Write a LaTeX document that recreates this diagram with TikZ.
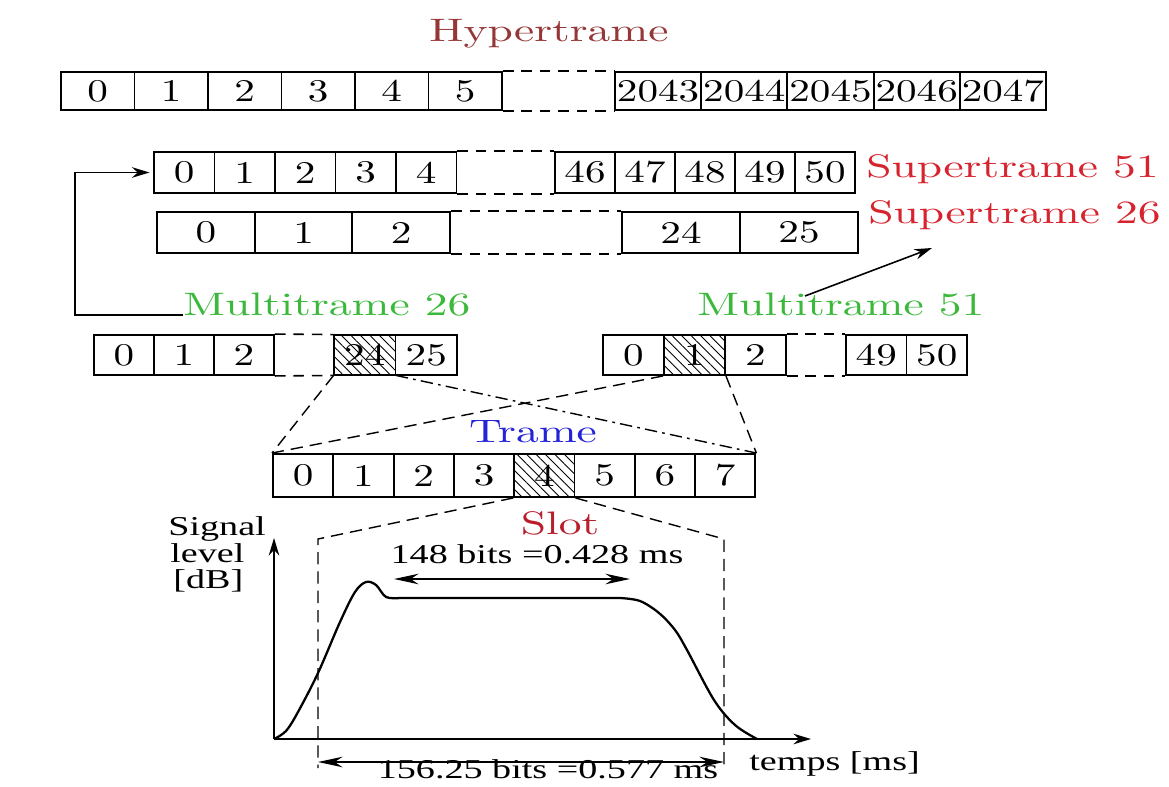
\documentclass[tikz,border=0pt]{standalone}
\usepackage{fontspec}
\usepackage{tikz}
\usetikzlibrary{arrows.meta, positioning, calc, patterns.meta}
\newfontfamily\lmwide{lmroman10-regular.otf}[FakeStretch=1.4]
\newfontfamily\lmcell{lmroman10-regular.otf}[FakeStretch=1.3]
\newfontfamily\tmwide{Liberation Serif}[FakeStretch=1.4]
\definecolor{hyperred}{RGB}{150, 55, 55}
\definecolor{superred}{RGB}{215, 35, 45}
\definecolor{multigreen}{RGB}{60, 185, 60}
\definecolor{trameblue}{RGB}{35, 35, 215}
\definecolor{slotred}{RGB}{185, 30, 45}
\tikzset{
    cell/.style={rectangle, draw, line width=1.1pt, inner sep=0, font=\lmcell\fontsize{18}{21}\selectfont},
    hatched/.style={cell, pattern={Lines[angle=-45, distance=3.8pt, line width=0.5pt]}},
    dashgap/.style={dash pattern=on 6pt off 4.5pt, line width=0.9pt},
    lbl/.style={inner sep=0, font=\lmwide\fontsize{18.5}{22}\selectfont},
    conn/.style={-{Stealth[length=10pt, width=6pt]}, line width=0.9pt},
    zoomline/.style={dash pattern=on 7pt off 4pt, line width=0.8pt},
    zoomdot/.style={dash pattern=on 7pt off 3pt on 1.5pt off 3pt, line width=0.8pt},
    plottext/.style={inner sep=0, font=\tmwide\fontsize{15.5}{18}\selectfont},
    dimarrow/.style={{Stealth[length=14pt, width=6pt]}-{Stealth[length=14pt, width=6pt]}, line width=0.9pt},
    axisline/.style={-{Stealth[length=10pt, width=6pt]}, line width=1pt}
}

\begin{document}
\begin{tikzpicture}[x=0.02cm, y=-0.02cm]
    \useasboundingbox (0,0) rectangle (1169,787);

    % hypertrame
    \node[lbl, text=hyperred, anchor=base] (hyper) at (549,42) {Hypertrame};
    \foreach \t [count=\i from 0] in {0,1,2,3,4,5}
        \node[cell, minimum width=1.47cm, minimum height=0.76cm] (hl\i) at ({61+73.5*(\i+0.5)},91) {\t};
    \foreach \t [count=\i from 0] in {2043,2044,2045,2046,2047}
        \node[cell, minimum width=1.724cm, minimum height=0.76cm] (hr\i) at ({615+86.2*(\i+0.5)},91) {\t};
    \draw[dashgap] (hl5.north east) -- (hr0.north west) (hl5.south east) -- (hr0.south west);

    % supertrames
    \foreach \t [count=\i from 0] in {0,1,2,3,4}
        \node[cell, minimum width=1.21cm, minimum height=0.82cm] (s51l\i) at ({154+60.5*(\i+0.5)},172.5) {\t};
    \foreach \t [count=\i from 0] in {46,47,48,49,50}
        \node[cell, minimum width=1.2cm, minimum height=0.82cm] (s51r\i) at ({555+60*(\i+0.5)},172.5) {\t};
    \draw[dashgap] (s51l4.north east) -- (s51r0.north west) (s51l4.south east) -- (s51r0.south west);
    \node[lbl, text=superred, anchor=base west] (sup51) at (866,178) {Supertrame 51};

    \foreach \t [count=\i from 0] in {0,1,2}
        \node[cell, minimum width=1.954cm, minimum height=0.82cm] (s26l\i) at ({157+97.7*(\i+0.5)},232.5) {\t};
    \foreach \t [count=\i from 0] in {24,25}
        \node[cell, minimum width=2.36cm, minimum height=0.82cm] (s26r\i) at ({622+118*(\i+0.5)},232.5) {\t};
    \draw[dashgap] (s26l2.north east) -- (s26r0.north west) (s26l2.south east) -- (s26r0.south west);
    \node[lbl, text=superred, anchor=base west] (sup26) at (868,224) {Supertrame 26};

    % multitrames
    \node[lbl, text=multigreen, anchor=base west] (mul26) at (183,315) {Multitrame 26};
    \node[lbl, text=multigreen, anchor=base west] (mul51) at (697,315) {Multitrame 51};

    \foreach \t [count=\i from 0] in {0,1,2}
        \node[cell, minimum width=1.2cm, minimum height=0.8cm] (m26l\i) at ({94+60*(\i+0.5)},355) {\t};
    \node[hatched, minimum width=1.23cm, minimum height=0.8cm] (m26r0) at (364.75,355) {24};
    \node[cell, minimum width=1.23cm, minimum height=0.8cm] (m26r1) at (426.25,355) {25};
    \draw[dashgap] (m26l2.north east) -- (m26r0.north west) (m26l2.south east) -- (m26r0.south west);

    \node[cell, minimum width=1.22cm, minimum height=0.8cm] (m51l0) at (633.5,355) {0};
    \node[hatched, minimum width=1.22cm, minimum height=0.8cm] (m51l1) at (694.5,355) {1};
    \node[cell, minimum width=1.22cm, minimum height=0.8cm] (m51l2) at (755.5,355) {2};
    \foreach \t [count=\i from 0] in {49,50}
        \node[cell, minimum width=1.21cm, minimum height=0.8cm] (m51r\i) at ({846+60.5*(\i+0.5)},355) {\t};
    \draw[dashgap] (m51l2.north east) -- (m51r0.north west) (m51l2.south east) -- (m51r0.south west);

    \draw[conn, shorten >=2pt] (mul26.base west) -- ++(-108,0) |- (s51l0.west);
    \coordinate (mulTip) at (805,296);
    \coordinate (supTip) at (932,248);
    \draw[conn] (mulTip) -- (supTip);

    % trame
    \node[lbl, text=trameblue, anchor=base] (trame) at (533,442) {Trame};
    \foreach \i in {0,...,7} {
        \ifnum\i=4
            \node[hatched, minimum width=1.206cm, minimum height=0.86cm] (t\i) at ({273+60.3*(\i+0.5)},475.5) {\i};
        \else
            \node[cell, minimum width=1.206cm, minimum height=0.86cm] (t\i) at ({273+60.3*(\i+0.5)},475.5) {\i};
        \fi
    }
    \draw[zoomline] (m26r0.south west) -- (t0.north west);
    \draw[zoomdot] (m26r0.south east) -- (t7.north east);
    \draw[zoomline] (m51l1.south west) -- (t0.north west);
    \draw[zoomline] (m51l1.south east) -- (t7.north east);

    % slot
    \node[lbl, text=slotred, anchor=base] (slot) at (560,534) {Slot};
    \coordinate (slotL) at (318,539);
    \coordinate (slotR) at (724,539);
    \coordinate (slotLb) at (318,768);
    \coordinate (slotRb) at (724,768);
    \draw[zoomline] (t4.south west) -- (slotL) -- (slotLb);
    \draw[zoomline] (t4.south east) -- (slotR) -- (slotRb);

    \coordinate (O) at (274,739);
    \coordinate (yTop) at (274,538);
    \coordinate (xEnd) at (811,739);
    \draw[axisline] (O) -- (yTop);
    \draw[axisline] (O) -- (xEnd);
    \node[plottext, anchor=base west] (sig1) at (168,535) {Signal};
    \node[plottext, anchor=base west] (sig2) at (170,562) {level};
    \node[plottext, anchor=base west] (sig3) at (173,588) {[dB]};
    \node[plottext, anchor=base west] (temps) at (749,770) {temps [ms]};

    \draw[line width=1.3pt] plot[smooth, tension=0.55] coordinates {(274,739) (286,731) (298,712) (318,673) (340,622) (355,592) (366,582) (376,585) (386,597) (400,598)}
        -- (620,598) plot[smooth, tension=0.55] coordinates {(620,598) (640,601) (659,613) (675,630) (687,650) (714,700) (735,725) (757,739)};

    \coordinate (bA) at (394,579);
    \coordinate (bB) at (630,579);
    \draw[dimarrow] (bA) -- (bB);
    \node[plottext, anchor=base] (bits148) at (537,563) {148 bits =0.428 ms};

    \coordinate (cA) at (318,762);
    \coordinate (cB) at (724,762);
    \draw[dimarrow] (cA) -- (cB);
    \node[plottext, anchor=base] (bits156) at (548,778) {156.25 bits =0.577 ms};

\end{tikzpicture}
\end{document}
